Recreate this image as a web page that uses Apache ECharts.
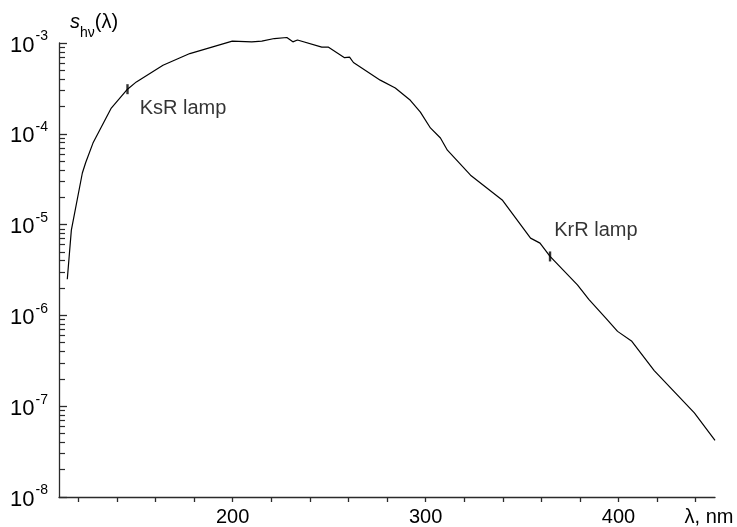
<!DOCTYPE html>
<html>
<head>
<meta charset="utf-8">
<script src="https://cdn.jsdelivr.net/npm/echarts@6/dist/echarts.min.js"></script>
<style>
  html, body { margin: 0; padding: 0; background: #fff; }
  #chart { width: 737px; height: 527px; }
</style>
</head>
<body>
<div id="chart"></div>
<script>
// Spectral density s_hv(lambda) versus wavelength, nm
const wavelength = [114.3, 116.4, 122.1, 123.8, 127.6, 137.1, 145.5, 150.1, 163.9, 177.8,
  199.8, 209.9, 215.1, 221.6, 228.1, 231.2, 233.6, 246.2, 249.7, 258.0,
  260.6, 262.6, 276.5, 284.3, 292.1, 297.3, 302.5, 307.7, 311.3, 323.3,
  339.7, 354.4, 359.3, 364.5, 378.7, 384.7, 393.4, 399.5, 406.9, 418.5,
  439.3, 450.0];
const spectralDensity = [2.5e-6, 8.7e-6, 3.7e-5, 4.8e-5, 7.9e-5, 1.92e-4, 3.1e-4, 3.73e-4, 5.69e-4, 7.65e-4,
  1.05e-3, 1.03e-3, 1.05e-3, 1.12e-3, 1.15e-3, 1.03e-3, 1.08e-3, 9.0e-4, 9.0e-4, 6.9e-4,
  7.0e-4, 6.1e-4, 3.9e-4, 3.2e-4, 2.34e-4, 1.73e-4, 1.16e-4, 9.0e-5, 6.6e-5, 3.5e-5,
  1.87e-5, 7.1e-6, 6.25e-6, 4.46e-6, 2.17e-6, 1.49e-6, 9.35e-7, 6.67e-7, 5.18e-7, 2.47e-7,
  8.45e-8, 4.2e-8];

// Lamp marks on the curve
const lampNames = ['KsR lamp', 'KrR lamp'];
const lampWavelength = [145.5, 364.5];
const lampValue = [3.1e-4, 4.46e-6];

// Axis ticks and labels
const xTicks = [120, 140, 160, 180, 200, 220, 240, 260, 280, 300, 320, 340, 360, 380, 400, 420, 440];
const xLabels = [200, 300, 400];
const yDecades = [-8, -7, -6, -5, -4, -3];
const yMinorMultipliers = [2, 3, 4, 5, 6, 7, 8, 9];

const FONT = '"Liberation Sans", Arial, Helvetica, sans-serif';
const AXIS_COLOR = '#2b2b2b';
const TEXT_COLOR = '#000';

const minorLogTicks = [];
yDecades.slice(0, -1).forEach(d => {
  yMinorMultipliers.forEach(m => minorLogTicks.push(d + Math.log10(m)));
});

const curve = wavelength.map((w, i) => [w, spectralDensity[i]]);
const lamps = lampNames.map((n, i) => ({
  name: n,
  value: [lampWavelength[i], lampValue[i]],
  label: i === 0
    ? { distance: 11, offset: [0, 19] }
    : { distance: 3, offset: [0, -26] }
}));

const chart = echarts.init(document.getElementById('chart'), null, { renderer: 'canvas' });

chart.setOption({
  animation: false,
  backgroundColor: '#fff',
  grid: { left: 59, right: 22, top: 43, bottom: 30 },
  xAxis: {
    type: 'value',
    min: 110,
    max: 450,
    name: 'λ, nm',
    nameLocation: 'end',
    nameGap: -6,
    nameTextStyle: {
      fontFamily: FONT, fontSize: 20, color: TEXT_COLOR,
      align: 'center', verticalAlign: 'top', padding: [10, 0, 0, 0]
    },
    splitLine: { show: false },
    axisLine: { lineStyle: { color: AXIS_COLOR, width: 1.3 } },
    axisTick: { show: true, length: 5, customValues: xTicks, lineStyle: { color: AXIS_COLOR, width: 1.3 } },
    axisLabel: {
      customValues: xLabels,
      margin: 10,
      fontFamily: FONT, fontSize: 20, color: TEXT_COLOR
    }
  },
  yAxis: [
    {
      type: 'log',
      logBase: 10,
      min: 1e-8,
      max: 1e-3,
      splitNumber: 5,
      splitLine: { show: false },
      axisLine: { onZero: false, lineStyle: { color: AXIS_COLOR, width: 1.3 } },
      axisTick: { inside: true, length: 8, lineStyle: { color: AXIS_COLOR, width: 1.3 } },
      axisLabel: {
        margin: 11,
        formatter: v => '{b|10}{s|' + Math.round(Math.log10(v)) + '}',
        rich: {
          b: { fontFamily: FONT, fontSize: 22, color: TEXT_COLOR, verticalAlign: 'bottom', lineHeight: 27 },
          s: { fontFamily: FONT, fontSize: 14, color: TEXT_COLOR, verticalAlign: 'top', lineHeight: 27, padding: [0, 0, 0, 1] }
        }
      }
    },
    {
      // minor ticks at 2..9 of every decade, placed on a log10 scale
      type: 'value',
      min: -8,
      max: -3,
      position: 'left',
      splitLine: { show: false },
      axisLine: { show: false },
      axisLabel: { show: false },
      axisTick: { inside: true, length: 6, customValues: minorLogTicks, lineStyle: { color: AXIS_COLOR, width: 1.2 } }
    }
  ],
  graphic: [
    {
      type: 'text',
      left: 70,
      top: 12,
      style: {
        text: '{i|s}{sub|hν}{n|(λ)}',
        rich: {
          i: { fontFamily: FONT, fontSize: 20, fontStyle: 'italic', color: TEXT_COLOR, verticalAlign: 'top', lineHeight: 28 },
          sub: { fontFamily: FONT, fontSize: 14, color: TEXT_COLOR, verticalAlign: 'bottom', lineHeight: 28 },
          n: { fontFamily: FONT, fontSize: 20, color: TEXT_COLOR, verticalAlign: 'top', lineHeight: 28 }
        }
      }
    }
  ],
  series: [
    {
      type: 'line',
      data: curve,
      yAxisIndex: 0,
      showSymbol: false,
      clip: false,
      lineStyle: { color: '#000', width: 1.2 },
      z: 3
    },
    {
      type: 'scatter',
      data: lamps,
      yAxisIndex: 0,
      symbol: 'rect',
      symbolSize: [2.4, 10],
      itemStyle: { color: '#000' },
      clip: false,
      label: {
        show: true,
        position: 'right',
        formatter: p => p.name,
        fontFamily: FONT, fontSize: 20, color: TEXT_COLOR
      },
      z: 4
    }
  ]
});
</script>
</body>
</html>
